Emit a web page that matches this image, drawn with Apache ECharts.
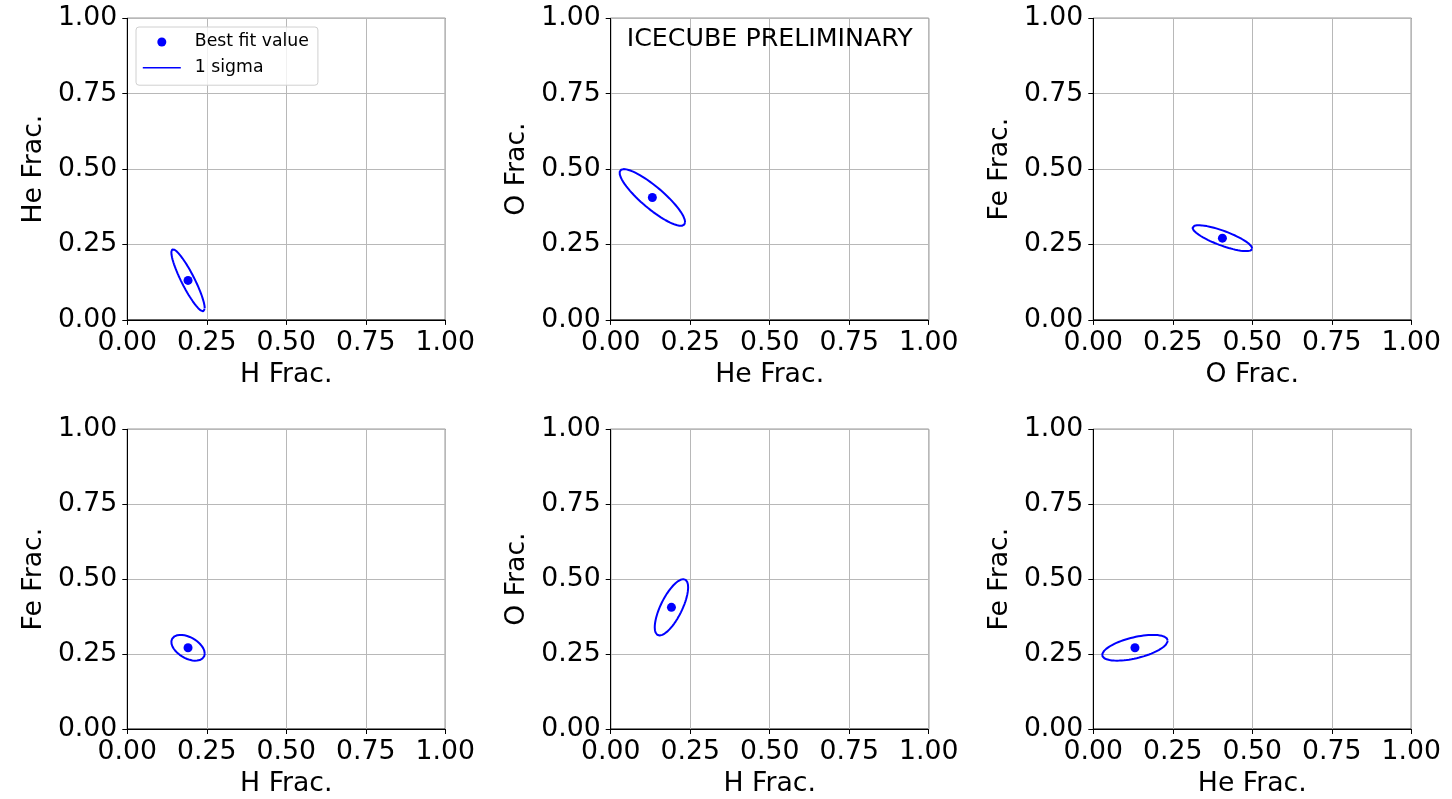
<!DOCTYPE html>
<html>
<head>
<meta charset="utf-8">
<script src="https://cdn.jsdelivr.net/npm/echarts@6/dist/echarts.min.js"></script>
<style>
  html, body { margin: 0; padding: 0; background: #ffffff; }
  #chart { width: 1452px; height: 799px; }
</style>
</head>
<body>
<div id="chart"></div>
<script>
// ---- data ----
const components = ['H', 'He', 'O', 'Fe'];
const bestFit = [0.191, 0.131, 0.406, 0.271];        // best-fit fractions
const sigma = [0.0525, 0.103, 0.094, 0.043];         // 1-sigma widths
const panelX = ['H', 'He', 'O', 'H', 'H', 'He'];
const panelY = ['He', 'O', 'Fe', 'Fe', 'O', 'Fe'];
const panelRho = [-0.9, -0.87, -0.8, -0.45, 0.71, 0.55]; // correlation per pair
const tickValues = [0, 0.25, 0.5, 0.75, 1];
const tickLabels = ['0.00', '0.25', '0.50', '0.75', '1.00'];
const legendNames = ['Best fit value', '1 sigma'];
const annotation = 'ICECUBE PRELIMINARY';

// ---- layout ----
const FONT = 'DejaVu Sans';
const BLUE = '#0000ff';
const colLeft = [127.3, 610.7, 1093.3];
const rowTop = [18.3, 429.3];
const plotW = 318, plotH = 301.6;

function fmt(v) {
  const i = tickValues.findIndex(t => Math.abs(t - v) < 1e-9);
  return i >= 0 ? tickLabels[i] : '';
}

// 1-sigma contour of a 2D Gaussian with given centre, widths and correlation
function contour(cx, cy, sx, sy, rho) {
  const pts = [];
  const n = 240;
  const k = Math.sqrt(1 - rho * rho);
  for (let i = 0; i <= n; i++) {
    const t = 2 * Math.PI * i / n;
    pts.push([cx + sx * Math.cos(t), cy + sy * (rho * Math.cos(t) + k * Math.sin(t))]);
  }
  return pts;
}

const grids = [], xAxes = [], yAxes = [], series = [];
for (let p = 0; p < 6; p++) {
  const r = Math.floor(p / 3), c = p % 3;
  grids.push({
    left: colLeft[c], top: rowTop[r], width: plotW, height: plotH,
    show: true, borderColor: '#000000', borderWidth: 1, backgroundColor: 'transparent',
    containLabel: false
  });
  const axisCommon = {
    type: 'value', gridIndex: p, min: 0, max: 1, interval: 0.25,
    nameLocation: 'middle',
    nameTextStyle: { fontFamily: FONT, fontSize: 26.7, color: '#000000' },
    axisLine: { show: true, onZero: false, lineStyle: { color: '#000000', width: 1 } },
    axisTick: { show: true, inside: false, length: 5, lineStyle: { color: '#000000', width: 1 } },
    splitLine: { show: true, lineStyle: { color: '#b8b8b8', width: 1 } },
    axisLabel: {
      show: true, fontFamily: FONT, fontSize: 26.7, color: '#000000',
      formatter: fmt, showMinLabel: true, showMaxLabel: true
    }
  };
  const xi = components.indexOf(panelX[p]);
  const yi = components.indexOf(panelY[p]);
  xAxes.push(Object.assign({}, axisCommon, {
    name: panelX[p] + ' Frac.', nameGap: 42,
    axisLabel: Object.assign({}, axisCommon.axisLabel, { margin: 9.5 })
  }));
  yAxes.push(Object.assign({}, axisCommon, {
    name: panelY[p] + ' Frac.', nameGap: 80,
    axisLabel: Object.assign({}, axisCommon.axisLabel, { margin: 10 })
  }));
  series.push({
    name: legendNames[1], type: 'line', xAxisIndex: p, yAxisIndex: p,
    data: contour(bestFit[xi], bestFit[yi], sigma[xi], sigma[yi], panelRho[p]),
    showSymbol: false, symbol: 'none', smooth: false, silent: true,
    lineStyle: { color: BLUE, width: 2 }, itemStyle: { color: BLUE }, z: 3
  });
  series.push({
    name: legendNames[0], type: 'scatter', xAxisIndex: p, yAxisIndex: p,
    data: [[bestFit[xi], bestFit[yi]]],
    symbol: 'circle', symbolSize: 9, itemStyle: { color: BLUE, opacity: 1 }, z: 4
  });
}

const chart = echarts.init(document.getElementById('chart'), null, { renderer: 'canvas' });
chart.setOption({
  animation: false,
  backgroundColor: '#ffffff',
  textStyle: { fontFamily: FONT },
  grid: grids,
  xAxis: xAxes,
  yAxis: yAxes,
  legend: {
    show: true, orient: 'vertical', left: 136, top: 27,
    data: [
      { name: legendNames[0], icon: 'circle' },
      { name: legendNames[1], itemStyle: { color: 'rgba(0,0,0,0)', borderWidth: 0, opacity: 0 },
        lineStyle: { width: 1.6, color: BLUE } }
    ],
    itemWidth: 38, itemHeight: 9, itemGap: 8.7,
    padding: [6.5, 9, 9, 6],
    backgroundColor: 'rgba(255,255,255,0.8)',
    borderColor: '#d0d0d0', borderWidth: 1, borderRadius: 3,
    textStyle: { fontFamily: FONT, fontSize: 17.3, color: '#000000', padding: [0, 0, 0, 9] },
    selectedMode: false
  },
  graphic: [{
    type: 'text', x: colLeft[1] + plotW / 2, y: 39.5,
    style: {
      text: annotation, fontFamily: FONT, fontSize: 25.3, fill: '#000000',
      textAlign: 'center', textVerticalAlign: 'middle'
    },
    z: 10
  }],
  series: series
});
</script>
</body>
</html>
